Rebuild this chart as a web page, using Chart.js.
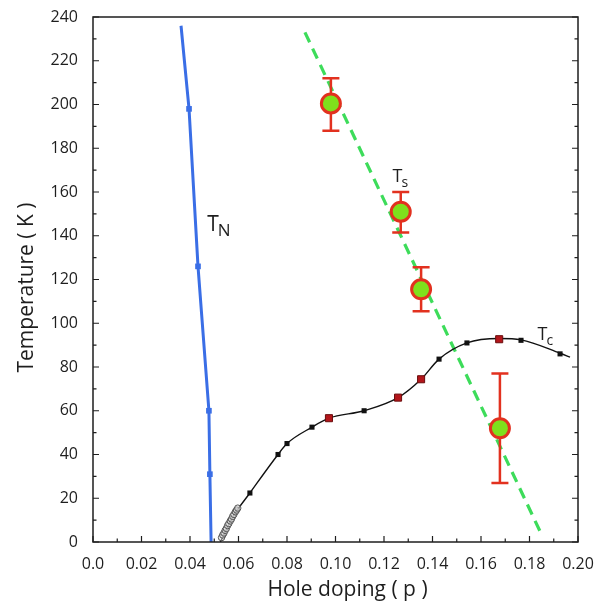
<!DOCTYPE html>
<html>
<head>
<meta charset="utf-8">
<script src="https://cdn.jsdelivr.net/npm/chart.js@4.4.1/dist/chart.umd.min.js"></script>
<style>
  html, body { margin: 0; padding: 0; background: #fff; }
  #wrap { width: 603px; height: 602px; }
</style>
</head>
<body>
<div id="wrap"><canvas id="chart"></canvas></div>
<script>
// T_N line (Neel temperature) and its measured points
const tnLineP = [0.0363, 0.0396, 0.0433, 0.0478, 0.0482, 0.0487];
const tnLineT = [236, 198, 126, 60, 31, 0];
const tnPointP = [0.0396, 0.0433, 0.0478, 0.0482];
const tnPointT = [198, 126, 60, 31];

// Tc dome: black and red squares, open circles near onset, guide curve
const tcBlackP = [0.0647, 0.0763, 0.0800, 0.0903, 0.1118, 0.1427, 0.1542, 0.1765, 0.1926];
const tcBlackT = [22.4, 40, 45, 52.5, 60, 83.6, 91, 92.2, 86];
const tcRedP = [0.0973, 0.1258, 0.1353, 0.1675];
const tcRedT = [56.6, 66, 74.4, 92.7];
const tcOpenP = [0.0530, 0.0535, 0.0540, 0.0545, 0.0550, 0.0555, 0.0560, 0.0566, 0.0571, 0.0576, 0.0581, 0.0587, 0.0592, 0.0597];
const tcOpenT = [2, 3.2, 4.1, 5.3, 6.2, 7.5, 8.4, 9.6, 10.5, 11.7, 12.6, 13.8, 14.6, 15.5];
const tcCurveP = [0.0525, 0.0580, 0.0647, 0.0763, 0.0800, 0.0903, 0.0973, 0.1118, 0.1258, 0.1353, 0.1427, 0.1542, 0.1675, 0.1765, 0.1926, 0.1967];
const tcCurveT = [0, 12, 22.4, 40, 45, 52.5, 56.6, 60, 66, 74.4, 83.6, 91, 93, 92.4, 86.3, 84.5];

// Ts: dashed guide line and points with error bars
const tsLineP = [0.0874, 0.1845];
const tsLineT = [233, 4.5];
const tsP = [0.0981, 0.1269, 0.1353, 0.1678];
const tsT = [200.5, 151, 115.5, 52];
const tsLow = [188, 141.5, 105.5, 27];
const tsHigh = [212, 160, 125.6, 77];

// curve labels: [main, subscript, p, T]
const labels = [
  ['T', 'N', 0.0471, 142],
  ['T', 's', 0.1235, 164.5],
  ['T', 'c', 0.1833, 92.5]
];

const xy = (xs, ys) => xs.map((x, i) => ({ x: x, y: ys[i] }));

const FONT = '"Open Sans", "DejaVu Sans", sans-serif';
const INK = '#1e1e1e';

const errorBars = {
  id: 'errorBars',
  beforeDatasetDraw(chart, args) {
    if (args.meta.label !== 'Ts') return;
    const ctx = chart.ctx;
    const xs = chart.scales.x, ys = chart.scales.y;
    ctx.save();
    ctx.strokeStyle = '#e2311f';
    ctx.lineWidth = 2.5;
    tsP.forEach((p, i) => {
      const px = xs.getPixelForValue(p);
      const lo = ys.getPixelForValue(tsLow[i]);
      const hi = ys.getPixelForValue(tsHigh[i]);
      ctx.beginPath();
      ctx.moveTo(px, lo); ctx.lineTo(px, hi);
      ctx.moveTo(px - 8.5, lo); ctx.lineTo(px + 8.5, lo);
      ctx.moveTo(px - 8.5, hi); ctx.lineTo(px + 8.5, hi);
      ctx.stroke();
    });
    ctx.restore();
  }
};

const frame = {
  id: 'frame',
  afterDraw(chart) {
    const ctx = chart.ctx;
    const a = chart.chartArea;
    const xs = chart.scales.x, ys = chart.scales.y;
    ctx.save();
    ctx.strokeStyle = INK;
    ctx.lineWidth = 1.5;
    ctx.strokeRect(a.left, a.top, a.right - a.left, a.bottom - a.top);
    ctx.lineWidth = 1.2;
    ctx.beginPath();
    xs.ticks.forEach(t => {
      const px = xs.getPixelForValue(t.value);
      const major = Math.round(t.value * 100) % 2 === 0;
      const len = major ? 6 : 3.5;
      ctx.moveTo(px, a.bottom); ctx.lineTo(px, a.bottom - len);
    });
    ys.ticks.forEach(t => {
      const py = ys.getPixelForValue(t.value);
      const major = Math.round(t.value) % 20 === 0;
      const len = major ? 6 : 3.5;
      ctx.moveTo(a.left, py); ctx.lineTo(a.left + len, py);
      ctx.moveTo(a.right, py); ctx.lineTo(a.right - len, py);
    });
    ctx.stroke();

    // axis titles
    ctx.fillStyle = INK;
    ctx.font = '21px ' + FONT;
    ctx.textAlign = 'center';
    ctx.textBaseline = 'alphabetic';
    ctx.fillText('Hole doping ( p )', (a.left + a.right) / 2 + 12, 596);
    ctx.save();
    ctx.translate(33, (a.top + a.bottom) / 2 + 8);
    ctx.rotate(-Math.PI / 2);
    ctx.fillText('Temperature ( K )', 0, 0);
    ctx.restore();

    // curve labels
    labels.forEach(([main, sub, p, T], i) => {
      const px = xs.getPixelForValue(p);
      const py = ys.getPixelForValue(T);
      const big = i === 0 ? 21 : 18;
      ctx.font = big + 'px ' + FONT;
      ctx.textAlign = 'left';
      ctx.fillText(main, px, py);
      const w = ctx.measureText(main).width;
      ctx.font = Math.round(big * 0.8) + 'px ' + FONT;
      ctx.fillText(sub, px + w - 1, py + 5);
    });
    ctx.restore();
  }
};

new Chart(document.getElementById('chart'), {
  type: 'scatter',
  data: {
    datasets: [
      {
        label: 'TsLine', data: xy(tsLineP, tsLineT), showLine: true,
        borderColor: '#3ddc5a', borderWidth: 3.2, borderDash: [11, 7],
        pointRadius: 0, order: 9
      },
      {
        label: 'TnLine', data: xy(tnLineP, tnLineT), showLine: true,
        borderColor: '#3a6ee6', borderWidth: 3, pointRadius: 0, order: 8
      },
      {
        label: 'TnPts', data: xy(tnPointP, tnPointT),
        pointStyle: 'rect', pointRadius: 4, backgroundColor: '#3a6ee6',
        borderColor: '#3a6ee6', borderWidth: 0, order: 7
      },
      {
        label: 'TcCurve', data: xy(tcCurveP, tcCurveT), showLine: true,
        cubicInterpolationMode: 'monotone',
        borderColor: '#111', borderWidth: 1.4, pointRadius: 0, order: 6
      },
      {
        label: 'TcOpen', data: xy(tcOpenP, tcOpenT),
        pointStyle: 'circle', pointRadius: 3.2, backgroundColor: 'rgba(220,220,220,0.5)',
        borderColor: '#555', borderWidth: 1, order: 5
      },
      {
        label: 'TcBlack', data: xy(tcBlackP, tcBlackT),
        pointStyle: 'rect', pointRadius: 3.6, backgroundColor: '#111',
        borderColor: '#111', borderWidth: 0, order: 4
      },
      {
        label: 'TcRed', data: xy(tcRedP, tcRedT),
        pointStyle: 'rect', pointRadius: 5, backgroundColor: '#b3161b',
        borderColor: '#6a0d0d', borderWidth: 1, order: 3
      },
      {
        label: 'Ts', data: xy(tsP, tsT),
        pointStyle: 'circle', pointRadius: 9.5, backgroundColor: '#7fe01c',
        borderColor: '#e2311f', borderWidth: 3, order: 1
      }
    ]
  },
  options: {
    responsive: true,
    maintainAspectRatio: false,
    animation: false,
    events: [],
    layout: { padding: { top: 17, right: 25, left: 0, bottom: 0 } },
    plugins: { legend: { display: false }, tooltip: { enabled: false } },
    scales: {
      x: {
        type: 'linear', min: 0, max: 0.2,
        grid: { display: false }, border: { display: false },
        ticks: {
          stepSize: 0.01, autoSkip: false, maxRotation: 0, padding: 5,
          color: INK, font: { family: FONT, size: 16 },
          callback: v => {
            const k = Math.round(v * 100);
            if (k % 2 !== 0) return '';
            return k === 0 ? '0.0' : (k / 100).toFixed(2);
          }
        },
        afterFit: s => { s.height = 60; }
      },
      y: {
        type: 'linear', min: 0, max: 240,
        grid: { display: false }, border: { display: false },
        ticks: {
          stepSize: 10, autoSkip: false, padding: 7,
          color: INK, font: { family: FONT, size: 16 },
          callback: v => (Math.round(v) % 20 === 0 ? String(v) : '')
        },
        afterFit: s => { s.width = 93; }
      }
    }
  },
  plugins: [errorBars, frame]
});
</script>
</body>
</html>
